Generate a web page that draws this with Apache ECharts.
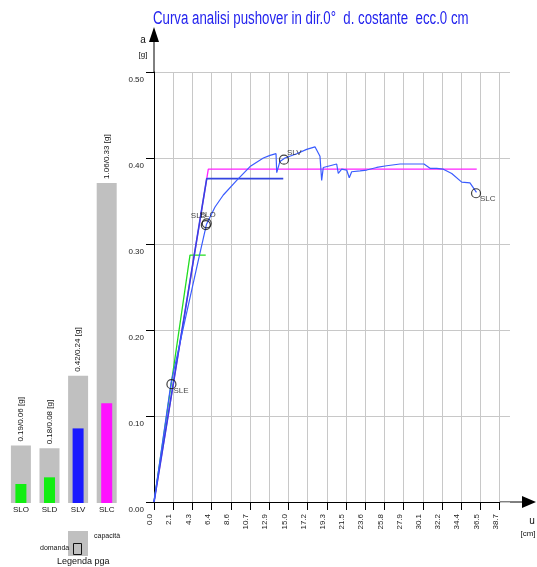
<!DOCTYPE html>
<html><head><meta charset="utf-8">
<script src="https://cdn.jsdelivr.net/npm/echarts@6/dist/echarts.min.js"></script>
<style>html,body{margin:0;padding:0;background:#fff}#c{width:537px;height:567px}</style>
</head><body><div id="c"></div>
<script>
// ---- data ----
const titleText = 'Curva analisi pushover in dir.0°  d. costante  ecc.0 cm';
const xTickLabels = ['0.0','2.1','4.3','6.4','8.6','10.7','12.9','15.0','17.2','19.3','21.5','23.6','25.8','27.9','30.1','32.2','34.4','36.5','38.7'];
const yTickLabels = ['0.00','0.10','0.20','0.30','0.40','0.50'];
const xStep = 2.15;

// pushover curve (u [cm], a [g])
const curveX = [0, 1.90, 4.96, 5.88, 6.83, 7.76, 9.26, 10.75, 12.24, 12.99, 13.66, 13.74, 14.10, 14.66, 15.97, 17.09, 18.02, 18.58, 18.77, 18.95, 20.45, 20.63, 21.01, 21.57, 21.86, 22.13, 23.06, 23.81, 24.93, 26.05, 27.54, 29.03, 30.22, 30.90, 31.65, 32.39, 33.33, 34.45, 35.37, 36.10];
const curveY = [0, 0.138, 0.281, 0.323, 0.343, 0.357, 0.374, 0.390, 0.400, 0.403, 0.405, 0.383, 0.396, 0.400, 0.405, 0.410, 0.413, 0.402, 0.374, 0.389, 0.393, 0.382, 0.387, 0.386, 0.377, 0.384, 0.385, 0.386, 0.389, 0.391, 0.393, 0.393, 0.393, 0.388, 0.388, 0.387, 0.382, 0.372, 0.371, 0.360];

// bilinear curves
const greenX = [0, 4.03, 5.79];
const greenY = [0, 0.287, 0.287];
const blueBX = [0, 5.90, 14.47];
const blueBY = [0, 0.376, 0.376];
const magX = [0, 6.08, 36.13];
const magY = [0, 0.387, 0.387];

// limit state points
const lsNames = ['SLE','SLD','SLO','SLV','SLC'];
const lsX = [1.95, 5.80, 5.90, 14.55, 36.05];
const lsY = [0.137, 0.322, 0.324, 0.398, 0.359];

// pga bars
const bars = ['SLO','SLD','SLV','SLC'];
const capacity = [0.190, 0.181, 0.421, 1.06];
const demand = [0.063, 0.085, 0.247, 0.330];

// ---- styles ----
const FONT = '"Liberation Sans", Arial, sans-serif';
const demandColors = ['#11ee11','#11ee11','#1a1aff','#ff11ff'];
const lsLabelOffset = {SLE:[2,7], SLD:[-15,-9], SLO:[-7,-9], SLV:[3,-7], SLC:[4,6]};
const trunc2 = v => (Math.floor(v*100 + 1e-6)/100).toFixed(2);
const zip = (a,b) => a.map((v,i)=>[v,b[i]]);

const chart = echarts.init(document.getElementById('c'), null, {renderer:'canvas'});
const option = {
  animation:false,
  backgroundColor:'#fff',
  textStyle:{fontFamily:FONT},
  grid:[
    {left:154, top:72, width:356, height:430},
    {left:154, top:72, width:345.7, height:430},
    {left:6.6, top:140.6, width:114.4, height:362.4}
  ],
  xAxis:[
    {gridIndex:0, type:'value', min:0, max:1, show:false},
    {gridIndex:1, type:'value', min:0, max:38.7, interval:xStep,
      axisLine:{show:true, onZero:false, lineStyle:{color:'#000', width:1}},
      axisTick:{show:true, length:8, lineStyle:{color:'#000'}},
      axisLabel:{rotate:90, margin:12, fontSize:8, color:'#222', fontFamily:FONT, verticalAlign:'bottom',
        formatter:v => xTickLabels[Math.round(v/xStep)] ?? ''},
      splitLine:{show:true, showMinLine:false, lineStyle:{color:'#c8c8c8', width:1}}},
    {gridIndex:2, type:'category', data:bars, axisLine:{show:false}, axisTick:{show:false},
      axisLabel:{margin:3, fontSize:8, color:'#111', fontFamily:FONT}},
    {gridIndex:2, type:'category', data:bars, show:false}
  ],
  yAxis:[
    {gridIndex:0, type:'value', min:0, max:0.5, interval:0.1,
      axisLine:{show:true, onZero:false, lineStyle:{color:'#000'}},
      axisTick:{show:true, length:8, lineStyle:{color:'#000'}},
      axisLabel:{margin:10, fontSize:8, color:'#222', fontFamily:FONT, verticalAlign:'top', padding:[4,0,0,0],
        formatter:v => yTickLabels[Math.round(v*10)] ?? ''},
      splitLine:{show:true, lineStyle:{color:'#c8c8c8', width:1}}},
    {gridIndex:1, type:'value', min:0, max:0.5, show:false},
    {gridIndex:2, type:'value', min:0, max:1.2, show:false}
  ],
  series:[
    {type:'line', xAxisIndex:1, yAxisIndex:1, data:zip(greenX, greenY), symbol:'none',
      lineStyle:{color:'#22dd22', width:1.3}},
    {type:'line', xAxisIndex:1, yAxisIndex:1, data:zip(magX, magY), symbol:'none',
      lineStyle:{color:'#ff22ff', width:1.3}},
    {type:'line', xAxisIndex:1, yAxisIndex:1, data:zip(blueBX, blueBY), symbol:'none',
      lineStyle:{color:'#3344e0', width:1.6}},
    {type:'line', xAxisIndex:1, yAxisIndex:1, data:zip(curveX, curveY), symbol:'none',
      lineStyle:{color:'#3a5cff', width:1.2}},
    {type:'scatter', xAxisIndex:1, yAxisIndex:1, symbol:'circle', symbolSize:9, z:5,
      itemStyle:{color:'rgba(0,0,0,0)', borderColor:'#111', borderWidth:1.2},
      data: lsNames.map((n,i)=>({name:n, value:[lsX[i], lsY[i]],
        label:{show:true, position:'inside', align:'left', verticalAlign:'middle', offset:lsLabelOffset[n],
          formatter:'{b}', fontSize:8, color:'#111', fontFamily:FONT}}))},
    {type:'bar', xAxisIndex:2, yAxisIndex:2, data:capacity, barWidth:20,
      itemStyle:{color:'#c0c0c0'},
      label:{show:true, position:'top', rotate:90, align:'left', verticalAlign:'middle', distance:4,
        fontSize:8, color:'#111', fontFamily:FONT,
        formatter:p => trunc2(capacity[p.dataIndex]) + '/' + trunc2(demand[p.dataIndex]) + ' [g]'}},
    {type:'bar', xAxisIndex:3, yAxisIndex:2, data:demand, barWidth:11,
      itemStyle:{color:p => demandColors[p.dataIndex]}}
  ],
  graphic:[
    {type:'text', x:153, y:10, scaleX:1.02, scaleY:1.35,
      style:{text:titleText, font:'13px ' + FONT, fill:'#2323ee', verticalAlign:'top'}},
    // axis extensions with arrows
    {type:'line', shape:{x1:154, y1:72, x2:154, y2:40}, style:{stroke:'#000', lineWidth:1}},
    {type:'polygon', shape:{points:[[154,27],[149,42],[159,42]]}, style:{fill:'#000'}},
    {type:'line', shape:{x1:499, y1:502, x2:524, y2:502}, style:{stroke:'#000', lineWidth:1}},
    {type:'polygon', shape:{points:[[536,502],[522,496],[522,508]]}, style:{fill:'#000'}},
    {type:'text', x:143, y:40, style:{text:'a', font:'10px ' + FONT, fill:'#111', align:'center', verticalAlign:'middle'}},
    {type:'text', x:143, y:55, style:{text:'[g]', font:'8px ' + FONT, fill:'#111', align:'center', verticalAlign:'middle'}},
    {type:'text', x:532, y:521, style:{text:'u', font:'10px ' + FONT, fill:'#111', align:'center', verticalAlign:'middle'}},
    {type:'text', x:528, y:534, style:{text:'[cm]', font:'8px ' + FONT, fill:'#111', align:'center', verticalAlign:'middle'}},
    // legend
    {type:'rect', shape:{x:68, y:531, width:20, height:25}, style:{fill:'#c0c0c0'}},
    {type:'rect', shape:{x:73.5, y:543.5, width:8, height:11}, style:{fill:'#c0c0c0', stroke:'#111', lineWidth:1}},
    {type:'text', x:94, y:536, style:{text:'capacità', font:'7px ' + FONT, fill:'#111', verticalAlign:'middle'}},
    {type:'text', x:40, y:548, style:{text:'domanda', font:'7px ' + FONT, fill:'#111', verticalAlign:'middle'}},
    {type:'text', x:57, y:562, style:{text:'Legenda pga', font:'9px ' + FONT, fill:'#111', verticalAlign:'middle'}}
  ]
};
chart.setOption(option);
</script></body></html>
